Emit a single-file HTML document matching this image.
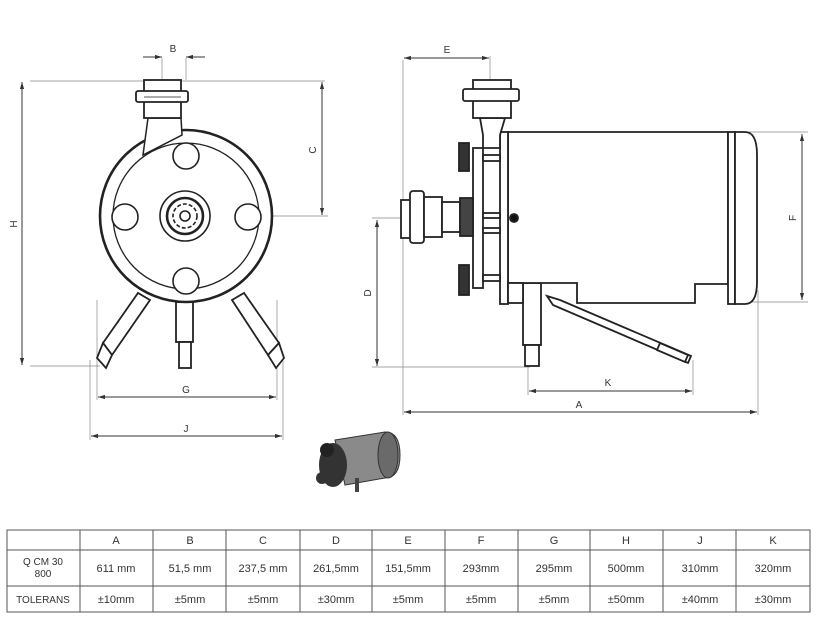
<!DOCTYPE html>
<html><head><meta charset="utf-8"><style>
html,body{margin:0;padding:0;background:#fff;width:826px;height:625px;overflow:hidden}
svg{display:block}
text{font-family:"Liberation Sans",sans-serif;fill:#333}
</style></head><body>
<svg width="826" height="625" viewBox="0 0 826 625" xmlns="http://www.w3.org/2000/svg">
<defs>
<marker id="ar" viewBox="0 0 10 10" refX="10" refY="5" markerWidth="7" markerHeight="7" orient="auto-start-reverse"><path d="M0,2 L10,5 L0,8 z" fill="#333"/></marker>
</defs>
<g stroke="#888" stroke-width="0.7" fill="none">
<line x1="30" y1="81" x2="325" y2="81"/>
<line x1="30" y1="366" x2="100" y2="366"/>
<line x1="200" y1="216" x2="328" y2="216"/>
<line x1="162" y1="58" x2="162" y2="80"/>
<line x1="186" y1="58" x2="186" y2="80"/>
<line x1="97" y1="300" x2="97" y2="400"/>
<line x1="277" y1="300" x2="277" y2="400"/>
<line x1="90" y1="360" x2="90" y2="440"/>
<line x1="283" y1="355" x2="283" y2="440"/>
</g>
<g stroke="#333" stroke-width="1" fill="none">
<line x1="22" y1="82" x2="22" y2="365" marker-start="url(#ar)" marker-end="url(#ar)"/>
<line x1="322" y1="82" x2="322" y2="215" marker-start="url(#ar)" marker-end="url(#ar)"/>
<line x1="143" y1="57" x2="162" y2="57" marker-end="url(#ar)"/>
<line x1="205" y1="57" x2="186" y2="57" marker-end="url(#ar)"/>
<line x1="98" y1="397" x2="276" y2="397" marker-start="url(#ar)" marker-end="url(#ar)"/>
<line x1="91" y1="436" x2="282" y2="436" marker-start="url(#ar)" marker-end="url(#ar)"/>
</g>
<g font-size="10" text-anchor="middle">
<text x="173" y="52">B</text>
<text x="186" y="393">G</text>
<text x="186" y="432">J</text>
<text transform="translate(17,224) rotate(-90)">H</text>
<text transform="translate(316,150) rotate(-90)">C</text>
</g>
<g stroke="#222" stroke-width="1.8" fill="#fff">
<path d="M103,343 L138,293 L150,300 L112,355 Z"/>
<path d="M97,358 L103,343 L112,355 L106,368 Z"/>
<path d="M268,355 L232,300 L244,293 L279,343 Z"/>
<path d="M268,355 L279,343 L284,358 L276,368 Z"/>
<rect x="176" y="302" width="17" height="40"/>
<rect x="179" y="342" width="12" height="26"/>
<circle cx="186" cy="216" r="86" stroke-width="2.6"/>
<circle cx="186" cy="216" r="73" stroke-width="1.3"/>
<path d="M143,155 L148,118 L181,118 L182,135 Z" stroke-width="1.5"/>
<rect x="144" y="80" width="37" height="38"/>
<rect x="136" y="91" width="52" height="11" rx="2"/>
<line x1="144" y1="97" x2="181" y2="97" stroke-width="0.8"/>
</g>
<g stroke="#222" stroke-width="1.6" fill="#fff">
<circle cx="186" cy="156" r="13"/>
<circle cx="186" cy="281" r="13"/>
<circle cx="125" cy="217" r="13"/>
<circle cx="248" cy="217" r="13"/>
<circle cx="185" cy="216" r="25"/>
<circle cx="185" cy="216" r="18" stroke-width="2.6"/>
<circle cx="185" cy="216" r="12" stroke-dasharray="4 2"/>
<circle cx="185" cy="216" r="5"/>
</g>
<g stroke="#888" stroke-width="0.7" fill="none">
<line x1="403" y1="60" x2="403" y2="415"/>
<line x1="490" y1="56" x2="490" y2="80"/>
<line x1="735" y1="132" x2="808" y2="132"/>
<line x1="735" y1="302" x2="808" y2="302"/>
<line x1="758" y1="290" x2="758" y2="415"/>
<line x1="372" y1="218" x2="402" y2="218"/>
<line x1="372" y1="367" x2="530" y2="367"/>
<line x1="528" y1="365" x2="528" y2="395"/>
<line x1="693" y1="360" x2="693" y2="395"/>
</g>
<g stroke="#333" stroke-width="1" fill="none">
<line x1="404" y1="58" x2="489" y2="58" marker-start="url(#ar)" marker-end="url(#ar)"/>
<line x1="802" y1="134" x2="802" y2="300" marker-start="url(#ar)" marker-end="url(#ar)"/>
<line x1="377" y1="220" x2="377" y2="366" marker-start="url(#ar)" marker-end="url(#ar)"/>
<line x1="529" y1="391" x2="692" y2="391" marker-start="url(#ar)" marker-end="url(#ar)"/>
<line x1="404" y1="412" x2="757" y2="412" marker-start="url(#ar)" marker-end="url(#ar)"/>
</g>
<g font-size="10" text-anchor="middle">
<text x="447" y="53">E</text>
<text x="608" y="386">K</text>
<text x="579" y="408">A</text>
<text transform="translate(796,218) rotate(-90)">F</text>
<text transform="translate(371,293) rotate(-90)">D</text>
</g>
<g stroke="#222" stroke-width="1.8" fill="#fff">
<path d="M547,296 L553,305 L688,363 L691,356 L560,300 Z"/>
<path d="M660,343 L688,355 L685,362 L657,350 Z"/>
<rect x="523" y="283" width="18" height="62"/>
<rect x="525" y="345" width="14" height="21"/>
<path d="M508,132 L728,132 L728,284 L695,284 L695,303 L577,303 L577,283 L508,283 Z"/>
<rect x="500" y="132" width="8" height="172"/>
<rect x="508" y="283" width="15" height="20"/>
<rect x="728" y="132" width="7" height="172"/>
<path d="M735,132 L745,132 Q757,132 757,155 L757,282 Q757,304 745,304 L735,304 Z"/>
<rect x="473" y="148" width="10" height="140"/>
<rect x="483" y="155" width="17" height="6"/>
<rect x="483" y="213" width="17" height="5"/>
<rect x="483" y="228" width="17" height="5"/>
<rect x="483" y="275" width="17" height="6"/>
<rect x="459" y="143" width="10" height="28" fill="#333"/>
<rect x="459" y="265" width="10" height="30" fill="#333"/>
<path d="M483,148 L483,135 L480,118 L505,118 L500,135 L500,148 Z"/>
<rect x="473" y="80" width="38" height="38"/>
<rect x="463" y="89" width="56" height="12" rx="2"/>
<rect x="401" y="200" width="10" height="38"/>
<rect x="410" y="191" width="14" height="52" rx="3"/>
<rect x="424" y="197" width="18" height="40"/>
<rect x="442" y="202" width="18" height="30"/>
<rect x="460" y="198" width="13" height="38" fill="#444"/>
<circle cx="514" cy="218" r="4" fill="#111"/>
</g>
<g>
<path d="M335,440 L385,432 Q400,432 400,455 Q400,478 385,478 L345,485 Z" fill="#8a8a8a" stroke="#333"/>
<ellipse cx="388" cy="455" rx="10" ry="23" fill="#6a6a6a" stroke="#333"/>
<ellipse cx="333" cy="465" rx="14" ry="22" fill="#333"/>
<circle cx="327" cy="450" r="7" fill="#222"/>
<circle cx="322" cy="478" r="6" fill="#333"/>
<rect x="355" y="478" width="4" height="14" fill="#444"/>
</g>
<g stroke="#555" stroke-width="1" fill="none">
<rect x="7" y="530" width="803" height="82"/>
<line x1="7" y1="550" x2="810" y2="550"/>
<line x1="7" y1="586" x2="810" y2="586"/>
<line x1="80" y1="530" x2="80" y2="612"/>
<line x1="153" y1="530" x2="153" y2="612"/>
<line x1="226" y1="530" x2="226" y2="612"/>
<line x1="300" y1="530" x2="300" y2="612"/>
<line x1="372" y1="530" x2="372" y2="612"/>
<line x1="445" y1="530" x2="445" y2="612"/>
<line x1="518" y1="530" x2="518" y2="612"/>
<line x1="590" y1="530" x2="590" y2="612"/>
<line x1="663" y1="530" x2="663" y2="612"/>
<line x1="736" y1="530" x2="736" y2="612"/>
</g>
<g font-size="11" text-anchor="middle" fill="#333">
<text x="116" y="544">A</text><text x="190" y="544">B</text><text x="263" y="544">C</text><text x="336" y="544">D</text><text x="408" y="544">E</text><text x="481" y="544">F</text><text x="554" y="544">G</text><text x="626" y="544">H</text><text x="700" y="544">J</text><text x="773" y="544">K</text>
<text x="43" y="565" font-size="10">Q CM 30</text><text x="43" y="577" font-size="10">800</text>
<text x="116" y="572">611 mm</text><text x="190" y="572">51,5 mm</text><text x="263" y="572">237,5 mm</text><text x="336" y="572">261,5mm</text><text x="408" y="572">151,5mm</text><text x="481" y="572">293mm</text><text x="554" y="572">295mm</text><text x="626" y="572">500mm</text><text x="700" y="572">310mm</text><text x="773" y="572">320mm</text>
<text x="43" y="603" font-size="10">TOLERANS</text>
<text x="116" y="603">±10mm</text><text x="190" y="603">±5mm</text><text x="263" y="603">±5mm</text><text x="336" y="603">±30mm</text><text x="408" y="603">±5mm</text><text x="481" y="603">±5mm</text><text x="554" y="603">±5mm</text><text x="626" y="603">±50mm</text><text x="700" y="603">±40mm</text><text x="773" y="603">±30mm</text>
</g>
</svg>
</body></html>
